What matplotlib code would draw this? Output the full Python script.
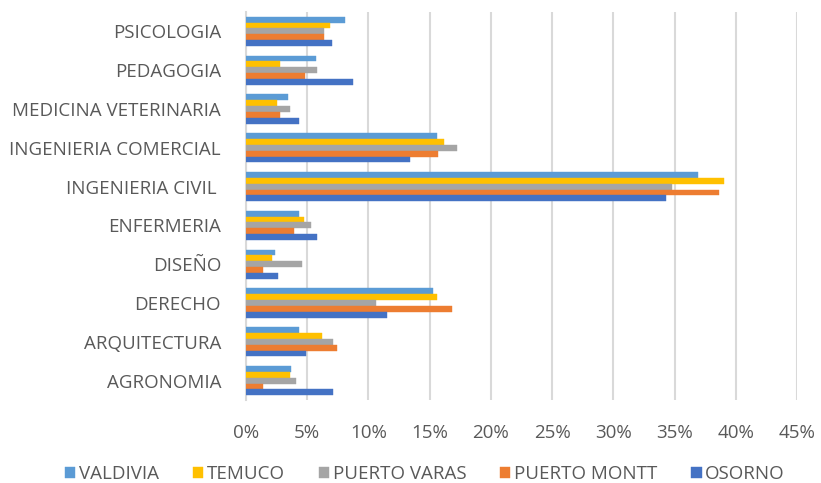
import numpy as np
import matplotlib
matplotlib.use("Agg")
import matplotlib.pyplot as plt
from matplotlib.ticker import PercentFormatter

# categories bottom -> top
carreras = ["AGRONOMIA", "ARQUITECTURA", "DERECHO", "DISEÑO", "ENFERMERIA",
            "INGENIERIA CIVIL ", "INGENIERIA COMERCIAL", "MEDICINA VETERINARIA",
            "PEDAGOGIA", "PSICOLOGIA"]

valdivia = [3.7, 4.3, 15.3, 2.4, 4.3, 36.9, 15.6, 3.4, 5.7, 8.1]
temuco = [3.6, 6.2, 15.6, 2.1, 4.7, 39.0, 16.2, 2.5, 2.8, 6.9]
puerto_varas = [4.1, 7.1, 10.6, 4.6, 5.3, 34.8, 17.2, 3.6, 5.8, 6.4]
puerto_montt = [1.4, 7.4, 16.8, 1.4, 3.9, 38.6, 15.7, 2.8, 4.8, 6.4]
osorno = [7.1, 4.9, 11.5, 2.6, 5.8, 34.3, 13.4, 4.3, 8.7, 7.0]

series = [
    ("VALDIVIA", valdivia, "#5B9BD5"),
    ("TEMUCO", temuco, "#FFC000"),
    ("PUERTO VARAS", puerto_varas, "#A5A5A5"),
    ("PUERTO MONTT", puerto_montt, "#ED7D31"),
    ("OSORNO", osorno, "#4472C4"),
]

plt.rcParams["font.family"] = ["Open Sans", "DejaVu Sans"]

fig = plt.figure(figsize=(8.21, 4.83), dpi=100)
ax = fig.add_axes([246 / 821, 83 / 483, 551 / 821, 388 / 483])

y = np.arange(len(carreras))
h = 0.75 / len(series)
for i, (name, vals, color) in enumerate(series):
    # first series on top of each group
    offset = (len(series) - 1) / 2 * h - i * h
    ax.barh(y + offset, vals, height=h, color=color, label=name,
            edgecolor=color, linewidth=0.3, zorder=3)

ax.set_xlim(0, 45)
ax.set_ylim(-0.5, len(carreras) - 0.5)
ax.set_xticks(np.arange(0, 46, 5))
ax.xaxis.set_major_formatter(PercentFormatter(decimals=0))
ax.set_yticks(y)
ax.set_yticklabels(carreras)
ax.tick_params(axis="both", length=0, labelsize=13.5, colors="#595959")
ax.tick_params(axis="x", pad=17)
ax.tick_params(axis="y", pad=18)

ax.grid(axis="x", color="#D9D9D9", linewidth=1.5, zorder=0)
for s in ["top", "right", "bottom"]:
    ax.spines[s].set_visible(False)
ax.spines["left"].set_color("#D9D9D9")
ax.spines["left"].set_linewidth(1.5)

fig.legend(loc="center", bbox_to_anchor=(425 / 821, 1 - 474 / 483),
           ncol=5, frameon=False, fontsize=13.5, handlelength=0.55, handleheight=0.55,
           handletextpad=0.2, columnspacing=1.8, labelcolor="#595959",
           borderpad=0, borderaxespad=0)

fig.savefig("out.png", dpi=100)
